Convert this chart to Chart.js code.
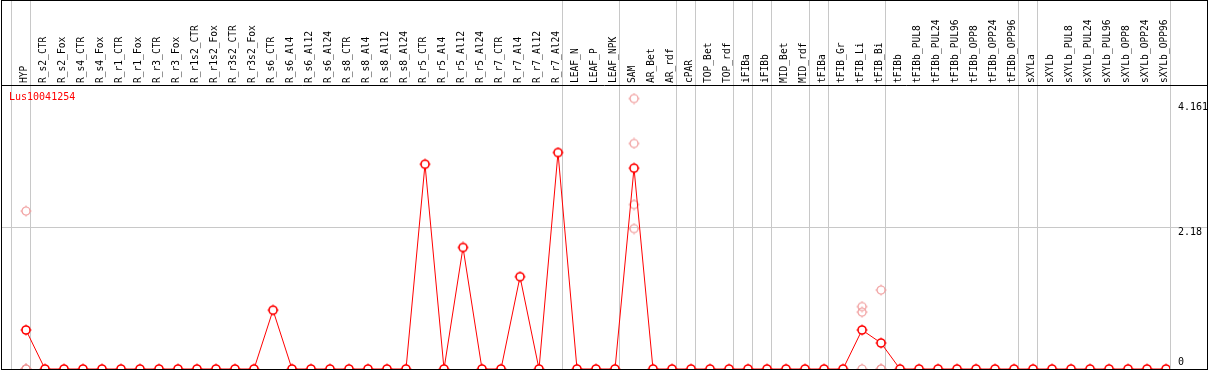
<!DOCTYPE html>
<html>
<head>
<meta charset="utf-8">
<script src="https://cdn.jsdelivr.net/npm/chart.js@4.4.1/dist/chart.umd.min.js"></script>
<style>
  html, body { margin: 0; padding: 0; background: #fff; }
  #wrap { width: 1209px; height: 370px; position: relative; }
</style>
</head>
<body>
<div id="wrap"><canvas id="expr"></canvas></div>
<script>
const FONT = '"DejaVu Sans Mono", monospace';

const categories = [
    'HYP',
    'R_s2_CTR', 'R_s2_Fox', 'R_s4_CTR', 'R_s4_Fox', 'R_r1_CTR', 'R_r1_Fox',
    'R_r3_CTR', 'R_r3_Fox', 'R_r1s2_CTR', 'R_r1s2_Fox', 'R_r3s2_CTR', 'R_r3s2_Fox',
    'R_s6_CTR', 'R_s6_Al4', 'R_s6_Al12', 'R_s6_Al24',
    'R_s8_CTR', 'R_s8_Al4', 'R_s8_Al12', 'R_s8_Al24',
    'R_r5_CTR', 'R_r5_Al4', 'R_r5_Al12', 'R_r5_Al24',
    'R_r7_CTR', 'R_r7_Al4', 'R_r7_Al12', 'R_r7_Al24',
    'LEAF_N', 'LEAF_P', 'LEAF_NPK', 'SAM', 'AR_Bet', 'AR_rdf', 'cPAR',
    'TOP_Bet', 'TOP_rdf', 'iFIBa', 'iFIBb', 'MID_Bet', 'MID_rdf',
    'tFIBa', 'tFIB_Gr', 'tFIB_Li', 'tFIB_Bi', 'tFIBb',
    'tFIBb_PUL8', 'tFIBb_PUL24', 'tFIBb_PUL96', 'tFIBb_OPP8', 'tFIBb_OPP24', 'tFIBb_OPP96',
    'sXYLa', 'sXYLb',
    'sXYLb_PUL8', 'sXYLb_PUL24', 'sXYLb_PUL96', 'sXYLb_OPP8', 'sXYLb_OPP24', 'sXYLb_OPP96',
];

// mean expression per sample
const means = [
    0.60, 0, 0, 0, 0, 0, 0, 0, 0, 0,
    0, 0, 0, 0.905, 0, 0, 0, 0, 0, 0,
    0, 3.15, 0, 1.87, 0, 0, 1.42, 0, 3.33, 0,
    0, 0, 3.09, 0, 0, 0, 0, 0, 0, 0,
    0, 0, 0, 0, 0.60, 0.40, 0, 0, 0, 0,
    0, 0, 0, 0, 0, 0, 0, 0, 0, 0,
    0,
];

// individual replicates (sample index + value)
const repIndex  = [0, 0, 0, 0, 32, 32, 32, 32, 44, 44, 44, 45, 45, 45];
const repValues = [2.43, 0, 0, 0, 4.161, 3.47, 2.53, 2.16, 0.96, 0.875, 0, 1.215, 0, 0];

// group boundaries come right after these sample indices
const groupEnds = [-1, 0, 28, 31, 34, 35, 37, 38, 39, 41, 42, 45, 52, 53, 60];

const yTickValues = [0, 2.18, 4.161];
const yMax = 4.369;
const geneName = 'Lus10041254';

function marker(color, lw, fill) {
    const c = document.createElement('canvas');
    c.width = 12; c.height = 12;
    const g = c.getContext('2d');
    g.strokeStyle = color;
    g.lineWidth = lw;
    g.beginPath();
    g.arc(6, 6, 4, 0, Math.PI * 2);
    if (fill) { g.fillStyle = fill; g.fill(); }
    g.stroke();
    g.lineWidth = 1;
    g.beginPath();
    g.moveTo(6, 0.5); g.lineTo(6, 2);
    g.moveTo(6, 10); g.lineTo(6, 11.5);
    g.moveTo(0.5, 6); g.lineTo(2, 6);
    g.moveTo(10, 6); g.lineTo(11.5, 6);
    g.stroke();
    return c;
}

const frame = {
    id: 'frame',
    afterDraw(chart) {
        const ctx = chart.ctx;
        ctx.save();
        ctx.strokeStyle = '#000';
        ctx.lineWidth = 1;
        ctx.strokeRect(1.5, 0.5, 1206, 369);
        ctx.beginPath();
        ctx.moveTo(1, 85.5);
        ctx.lineTo(1208, 85.5);
        ctx.stroke();
        ctx.fillStyle = '#ff0000';
        ctx.font = '10px ' + FONT;
        ctx.textBaseline = 'middle';
        ctx.fillText(geneName, 9, 97);
        ctx.restore();
    },
};

const SEP_OFF = 0.22;

function yLineHeight(v) {
    if (v === 2.18) return '10px';
    if (v === 0) return '14px';
    return '18px';
}

new Chart(document.getElementById('expr'), {
    type: 'line',
    data: {
        datasets: [
            {
                label: 'mean',
                data: means.map((v, i) => ({ x: i, y: v })),
                borderColor: '#ff0000',
                borderWidth: 1,
                pointStyle: marker('#ff0000', 1.6, '#ffffff'),
                tension: 0,
                order: 1,
            },
            {
                label: 'replicates',
                type: 'scatter',
                data: repIndex.map((x, i) => ({ x, y: repValues[i] })),
                pointStyle: marker('#f09a9a', 1.2, null),
                showLine: false,
                order: 2,
            },
        ],
    },
    options: {
        responsive: true,
        maintainAspectRatio: false,
        animation: false,
        events: [],
        layout: { autoPadding: false, padding: { left: 2, right: 1, top: 0, bottom: 1 } },
        plugins: { legend: { display: false }, tooltip: { enabled: false } },
        scales: {
            x: {
                type: 'linear',
                position: 'top',
                min: -1.263,
                max: 60.21,
                afterBuildTicks: (scale) => {
                    const t = categories.map((_, i) => i)
                        .concat(groupEnds.map(s => s + SEP_OFF))
                        .sort((a, b) => a - b);
                    scale.ticks = t.map(value => ({ value }));
                },
                afterFit: (scale) => {
                    scale.height = 85;
                    scale.paddingLeft = 0;
                    scale.paddingRight = 0;
                },
                border: { display: false },
                grid: {
                    color: (ctx) => (ctx.tick && !Number.isInteger(ctx.tick.value)) ? '#c8c8c8' : 'rgba(0,0,0,0)',
                    tickLength: 85,
                    lineWidth: 1,
                },
                ticks: {
                    autoSkip: false,
                    minRotation: 90,
                    maxRotation: 90,
                    padding: -83,
                    labelOffset: 10,
                    color: '#000',
                    font: { family: FONT, size: 9.6 },
                    callback: (v) => Number.isInteger(v) ? categories[v] : '',
                },
            },
            y: {
                type: 'linear',
                position: 'right',
                min: 0,
                max: yMax,
                afterBuildTicks: (scale) => { scale.ticks = yTickValues.map(value => ({ value })); },
                afterFit: (scale) => {
                    scale.width = 38;
                    scale.paddingTop = 0;
                    scale.paddingBottom = 0;
                },
                border: { display: false },
                grid: {
                    color: (ctx) => (ctx.tick && ctx.tick.value === 2.18) ? '#c8c8c8' : 'rgba(0,0,0,0)',
                    tickLength: 38,
                },
                ticks: {
                    padding: -30,
                    crossAlign: 'near',
                    color: '#000',
                    font: (ctx) => ({
                        family: FONT,
                        size: 10,
                        lineHeight: yLineHeight(ctx.tick ? ctx.tick.value : 0),
                    }),
                    callback: (v) => v === 0 ? ['0', ''] : ['', String(v)],
                },
            },
        },
    },
    plugins: [frame],
});
</script>
</body>
</html>
